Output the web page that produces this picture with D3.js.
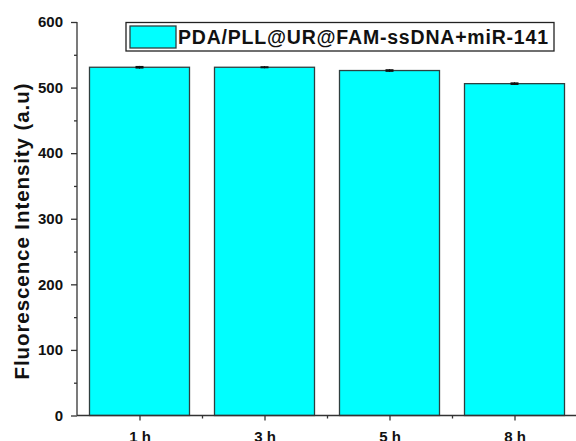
<!DOCTYPE html>
<html lang="en">
<head>
    <meta charset="UTF-8">
    <title>Fluorescence bars</title>
    <script src="https://d3js.org/d3.v7.min.js"></script>
    <style>
        body { margin: 0; background: #fff; }
        text { font-family: Arial, "Liberation Sans", sans-serif; font-weight: bold; }
    </style>
</head>
<body>
    <div id="chart"></div>
    <script>
        // values
        var categories = ["1 h", "3 h", "5 h", "8 h"];
        var values = [531, 531, 526, 506];
        var errors = [2, 1.5, 2, 2];
        var yTicks = [0, 100, 200, 300, 400, 500, 600];
        var legendLabel = "PDA/PLL@UR@FAM-ssDNA+miR-141";

        var W = 576, H = 441;
        var svg = d3.select("#chart").append("svg")
            .attr("width", W).attr("height", H);

        var x = d3.scaleLinear().domain([0.5, 4.5]).range([77, 577]);
        var y = d3.scaleLinear().domain([0, 600]).range([415.5, 22]);
        var barW = 100;

        // bars
        svg.selectAll("rect.bar")
            .data(values)
            .enter()
            .append("rect")
            .attr("class", "bar")
            .attr("x", function(d, i) { return x(i + 1) - barW / 2; })
            .attr("y", function(d) { return y(d); })
            .attr("width", barW)
            .attr("height", function(d) { return y(0) - y(d); })
            .style("fill", "#00ffff")
            .style("stroke", "#2f3f3f")
            .style("stroke-width", 1.3);

        // error bars
        var eb = svg.selectAll("g.err").data(values).enter().append("g");
        eb.append("line")
            .attr("x1", function(d, i) { return x(i + 1); })
            .attr("x2", function(d, i) { return x(i + 1); })
            .attr("y1", function(d, i) { return y(d + errors[i]); })
            .attr("y2", function(d, i) { return y(d - errors[i]); })
            .style("stroke", "#000").style("stroke-width", 1);
        eb.append("rect")
            .attr("x", function(d, i) { return x(i + 1) - 4; })
            .attr("y", function(d, i) { return y(d + errors[i]); })
            .attr("width", 8)
            .attr("height", function(d, i) { return Math.max(2, y(d - errors[i]) - y(d + errors[i])); })
            .style("fill", "#111");

        // y axis
        var yAxis = svg.append("g")
            .attr("transform", "translate(77,0)")
            .call(d3.axisLeft(y).tickValues(yTicks).tickSize(6).tickPadding(8));
        svg.append("g")
            .attr("transform", "translate(77,0)")
            .call(d3.axisLeft(y).tickValues(d3.range(50, 600, 100)).tickSize(3).tickFormat(""))
            .select(".domain").remove();

        // x axis
        var xAxis = svg.append("g")
            .attr("transform", "translate(0,415.5)")
            .call(d3.axisBottom(x).tickValues([1, 2, 3, 4]).tickSize(5).tickPadding(11)
                .tickFormat(function(d) { return categories[d - 1]; }));
        svg.append("g")
            .attr("transform", "translate(0,415.5)")
            .call(d3.axisBottom(x).tickValues([1.5, 2.5, 3.5]).tickSize(3).tickFormat(""))
            .select(".domain").remove();

        svg.selectAll(".domain, .tick line").style("stroke", "#333").style("stroke-width", 1.3);
        yAxis.selectAll(".tick text").style("font-size", "15px").style("fill", "#111");
        xAxis.selectAll(".tick text").style("font-size", "15px").style("fill", "#111");
        xAxis.select(".domain").attr("d", "M77,0H577");
        yAxis.select(".domain").attr("d", "M0,415.5V22");

        // y label
        svg.append("text")
            .attr("transform", "translate(29,231.5) rotate(-90)")
            .attr("text-anchor", "middle")
            .attr("textLength", 296)
            .style("font-size", "20.5px")
            .style("fill", "#111")
            .text("Fluorescence Intensity (a.u)");

        // legend
        var lg = svg.append("g");
        lg.append("rect")
            .attr("x", 126).attr("y", 22.5).attr("width", 428).attr("height", 28.5)
            .style("fill", "#fff").style("stroke", "#222").style("stroke-width", 1.3);
        lg.append("rect")
            .attr("x", 130).attr("y", 26).attr("width", 46).attr("height", 22)
            .style("fill", "#00ffff").style("stroke", "#2f3f3f").style("stroke-width", 1.3);
        lg.append("text")
            .attr("x", 178).attr("y", 43.5)
            .attr("textLength", 370)
            .style("font-size", "19.5px")
            .style("fill", "#111")
            .text(legendLabel);
    </script>
</body>
</html>
